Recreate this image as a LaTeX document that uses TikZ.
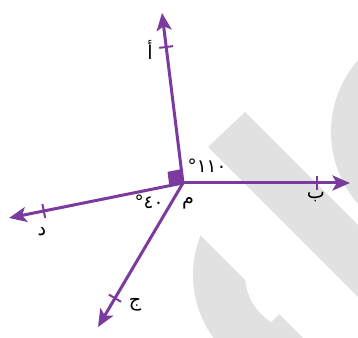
\documentclass[tikz,border=0pt]{standalone}
\usepackage{fontspec}
\newfontfamily\arabicfont[Script=Arabic]{DejaVu Sans}
\newfontfamily\digitfont{DejaVu Sans}
\usetikzlibrary{arrows.meta,calc}
\definecolor{raypurple}{RGB}{122,58,158}
\definecolor{wmgray}{RGB}{225,225,225}
\tikzset{
  ray/.style={raypurple, line width=1.8pt, -{Stealth[length=10.5pt,width=9pt,inset=2.5pt]}},
  tickmark/.style={raypurple, line width=1.2pt},
  lbl/.style={font=\arabicfont\fontsize{11.5}{13}\selectfont, inner sep=0pt},
  deg/.style={font=\digitfont\fontsize{11}{13}\selectfont, inner sep=0pt}
}
\begin{document}
\begin{tikzpicture}[x=0.6pt,y=-0.6pt]
  \useasboundingbox (0,0) rectangle (358,338);

  % Watermark in the background
  \begin{scope}
    \clip (0,0) rectangle (358,338);
    \fill[wmgray] (245,112) -- (208,147) -- (508,447) -- (545,412) -- cycle;
    \fill[wmgray] (440,132) circle (109);
    \begin{scope}
      \clip (0,35) -- (500,535) -- (0,535) -- cycle;
      \fill[wmgray] (300,275) circle (107);
      \clip (0,0) -- (593,0) -- (0,593) -- cycle;
      \fill[white] (300,275) circle (55);
    \end{scope}
  \end{scope}

  % Points
  \coordinate (M) at (183,183);
  \coordinate (A) at (162,13);
  \coordinate (B) at (350,183);
  \coordinate (D) at (9,218);
  \coordinate (C) at (98,327);

  % Right angle between MA and MD
  \coordinate (qA) at ($(M)!8.4pt!(A)$);
  \coordinate (qD) at ($(M)!8.4pt!(D)$);
  \fill[raypurple] (M) -- (qA) -- ($(qA)+(qD)-(M)$) -- (qD) -- cycle;

  % Rays with ticks
  \foreach \p in {A,B,D,C} {
    \draw[ray] (M) -- (\p);
    \coordinate (t\p) at ($(M)!0.8!(\p)$);
    \draw[tickmark] ($(t\p)!4.2pt!90:(\p)$) -- ($(t\p)!4.2pt!-90:(\p)$);
  }

  % Labels
  \node[lbl] (lA) at (150,50) {أ};
  \node[lbl] (lB) at (316,197) {ب};
  \node[lbl] (lD) at (42,232) {د};
  \node[lbl] (lC) at (135,305) {ج};
  \node[lbl] (lM) at (188,203) {م};
  \node[deg] (a110) at (207,166) {°١١٠};
  \node[deg] (a40) at (149,202) {°٤٠};
\end{tikzpicture}
\end{document}
